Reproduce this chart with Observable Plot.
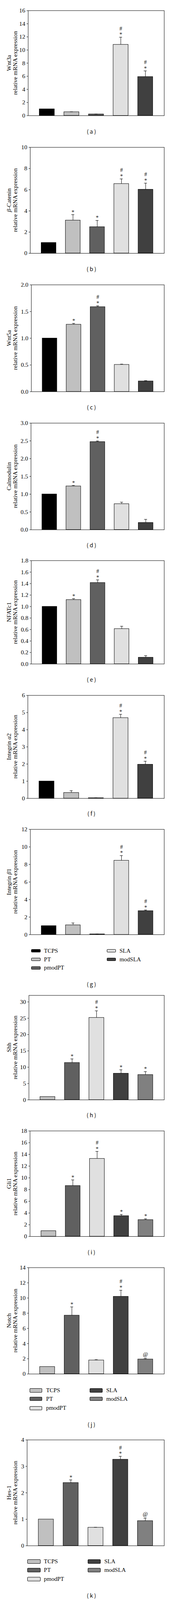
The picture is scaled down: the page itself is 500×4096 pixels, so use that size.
<!DOCTYPE html>
<html>
<head>
<meta charset="utf-8">
<script src="https://cdn.jsdelivr.net/npm/d3@7"></script>
<script src="https://cdn.jsdelivr.net/npm/@observablehq/plot@0.6"></script>
<style>
html, body { margin: 0; padding: 0; background: #fff; }
#root { position: relative; width: 500px; height: 4096px; overflow: hidden; background: #fff; }
.panel { position: absolute; left: 0; }
.cap { position: absolute; text-align: center; font-family: "Noto Sans CJK KR", "Noto Sans", sans-serif; color: #000; white-space: pre; }
.leg { position: absolute; display: flex; align-items: center; font-family: "Liberation Serif", "Times New Roman", serif; color: #000; white-space: nowrap; }
.sw { display: inline-block; box-sizing: border-box; border: 1px solid #000; border-radius: 2px; flex: none; }
</style>
</head>
<body>
<div id="root"></div>
<script>
const S = 0.834;

// ---------- categories & colours ----------
const groups = ["TCPS", "PT", "pmodPT", "SLA", "modSLA"];
const paletteWnt = ["#000000", "#c0c0c0", "#606060", "#e0e0e0", "#404040"];
const paletteHh  = ["#c0c0c0", "#606060", "#e0e0e0", "#404040", "#808080"];

// ---------- data (mean, upper error, significance marks) ----------
const wnt3aMean = [1.0, 0.56, 0.22, 10.82, 5.92];
const wnt3aErr  = [0, 0.02, 0.02, 1.13, 0.90];
const wnt3aSig  = ["", "", "", "*#", "*#"];

const catMean = [1.0, 3.11, 2.49, 6.56, 6.02];
const catErr  = [0, 0.54, 0.61, 0.46, 0.60];
const catSig  = ["", "*", "*", "*#", "*#"];

const wnt5aMean = [1.0, 1.258, 1.587, 0.506, 0.197];
const wnt5aErr  = [0, 0.02, 0.02, 0.01, 0.01];
const wnt5aSig  = ["", "*", "*#", "", ""];

const calMean = [1.0, 1.226, 2.473, 0.726, 0.198];
const calErr  = [0, 0.02, 0.025, 0.05, 0.095];
const calSig  = ["", "*", "*#", "", ""];

const nfatMean = [1.0, 1.118, 1.415, 0.612, 0.113];
const nfatErr  = [0, 0.02, 0.05, 0.045, 0.032];
const nfatSig  = ["", "*", "*#", "", ""];

const itga2Mean = [1.0, 0.33, 0.025, 4.69, 1.975];
const itga2Err  = [0, 0.12, 0.01, 0.21, 0.19];
const itga2Sig  = ["", "", "", "*#", "*#"];

const itgb1Mean = [1.0, 1.09, 0.06, 8.45, 2.71];
const itgb1Err  = [0, 0.24, 0.01, 0.56, 0.10];
const itgb1Sig  = ["", "", "", "*#", "*#"];

const shhMean = [0.95, 11.37, 25.17, 8.08, 7.68];
const shhErr  = [0, 1.17, 2.10, 1.13, 0.97];
const shhSig  = ["", "*", "*#", "*", "*"];

const gliMean = [0.95, 8.65, 13.27, 3.51, 2.84];
const gliErr  = [0, 1.0, 1.24, 0.24, 0.17];
const gliSig  = ["", "*", "*#", "*", "*"];

const notchMean = [0.95, 7.71, 1.81, 10.19, 1.94];
const notchErr  = [0, 1.12, 0.07, 0.83, 0.10];
const notchSig  = ["", "*", "", "*#", "@"];

const hesMean = [1.0, 2.38, 0.69, 3.26, 0.94];
const hesErr  = [0, 0.11, 0.01, 0.12, 0.10];
const hesSig  = ["", "*", "", "*#", "@"];

// ---------- tick values ----------
const ticksWnt3a = [0, 2, 4, 6, 8, 10, 12, 14, 16];
const ticksCat   = [0, 2, 4, 6, 8, 10];
const ticksWnt5a = [0, 0.5, 1.0, 1.5, 2.0];
const ticksCal   = [0, 0.5, 1.0, 1.5, 2.0, 2.5, 3.0];
const ticksNfat  = [0, 0.2, 0.4, 0.6, 0.8, 1.0, 1.2, 1.4, 1.6, 1.8];
const ticksItga2 = [0, 1, 2, 3, 4, 5, 6];
const ticksItgb1 = [0, 2, 4, 6, 8, 10, 12];
const ticksShh   = [0, 5, 10, 15, 20, 25, 30];
const ticksGli   = [0, 2, 4, 6, 8, 10, 12, 14, 16, 18];
const ticksNotch = [0, 2, 4, 6, 8, 10, 12, 14];
const ticksHes   = [0, 1, 2, 3, 4];

// ---------- axis titles (_x_ = italic) ----------
const titleWnt3a = ["Wnt3a", "relative mRNA expression"];
const titleCat   = ["_β_-Catenin", "relative mRNA expression"];
const titleWnt5a = ["Wnt5a", "relative mRNA expression"];
const titleCal   = ["Calmodulin", "relative mRNA expression"];
const titleNfat  = ["NFATc1", "relative mRNA expression"];
const titleItga2 = ["Integrin _α_2", "relative mRNA expression"];
const titleItgb1 = ["Integrin _β_1", "relative mRNA expression"];
const titleShh   = ["Shh", "relative mRNA expression"];
const titleGli   = ["Gli1", "relative mRNA expression"];
const titleNotch = ["Notch", "relative mRNA expression"];
const titleHes   = ["Hes-1", "relative mRNA expression"];

const captions = ["( a )", "( b )", "( c )", "( d )", "( e )", "( f )", "( g )", "( h )", "( i )", "( j )", "( k )"];

// ---------- layout (reference pixels) ----------
const layout = [
  {top: 32.3,   bottom: 354.7,  left: 86,   cap: 403},
  {top: 451.7,  bottom: 777,    left: 92.3, cap: 825},
  {top: 873.3,  bottom: 1201.3, left: 95.7, cap: 1250},
  {top: 1298,   bottom: 1625.3, left: 94.7, cap: 1673},
  {top: 1720,   bottom: 2037.3, left: 95.5, cap: 2085},
  {top: 2133.5, bottom: 2449.7, left: 85,   cap: 2496.7},
  {top: 2545.5, bottom: 2868.7, left: 92.7, cap: 3021,
    legend: {rows: [2918.6, 2945.2, 2971], sx: [96.4, 328], tx: [135.3, 367.4], sw: 28.3, sh: 9.3}},
  {top: 3054.3, bottom: 3375,   left: 88.3, cap: 3421.7},
  {top: 3471.3, bottom: 3795.3, left: 91.7, cap: 3843.3},
  {top: 3890.3, bottom: 4216.7, left: 87.3, cap: 4371.7,
    legend: {rows: [4267.7, 4294, 4322.3], sx: [90.7, 275.7], tx: [141.7, 326.7], sw: 39.3, sh: 12.7}},
  {top: 4418.8, bottom: 4743.7, left: 82.7, cap: 4896.7,
    legend: {rows: [4792.7, 4820, 4847.3], sx: [84.3, 269.3], tx: [135, 320.7], sw: 40, sh: 13}}
];

const fmt1 = d3.format(".1f");
const fmt0 = d3.format("d");

const panels = [
  {mean: wnt3aMean, err: wnt3aErr, sig: wnt3aSig, ticks: ticksWnt3a, ymax: 16,  fmt: fmt0, title: titleWnt3a, palette: paletteWnt},
  {mean: catMean,   err: catErr,   sig: catSig,   ticks: ticksCat,   ymax: 10,  fmt: fmt0, title: titleCat,   palette: paletteWnt},
  {mean: wnt5aMean, err: wnt5aErr, sig: wnt5aSig, ticks: ticksWnt5a, ymax: 2,   fmt: fmt1, title: titleWnt5a, palette: paletteWnt},
  {mean: calMean,   err: calErr,   sig: calSig,   ticks: ticksCal,   ymax: 3,   fmt: fmt1, title: titleCal,   palette: paletteWnt},
  {mean: nfatMean,  err: nfatErr,  sig: nfatSig,  ticks: ticksNfat,  ymax: 1.8, fmt: fmt1, title: titleNfat,  palette: paletteWnt},
  {mean: itga2Mean, err: itga2Err, sig: itga2Sig, ticks: ticksItga2, ymax: 6,   fmt: fmt0, title: titleItga2, palette: paletteWnt},
  {mean: itgb1Mean, err: itgb1Err, sig: itgb1Sig, ticks: ticksItgb1, ymax: 12,  fmt: fmt0, title: titleItgb1, palette: paletteWnt},
  {mean: shhMean,   err: shhErr,   sig: shhSig,   ticks: ticksShh,   ymax: 32,  fmt: fmt0, title: titleShh,   palette: paletteHh},
  {mean: gliMean,   err: gliErr,   sig: gliSig,   ticks: ticksGli,   ymax: 18,  fmt: fmt0, title: titleGli,   palette: paletteHh},
  {mean: notchMean, err: notchErr, sig: notchSig, ticks: ticksNotch, ymax: 14,  fmt: fmt0, title: titleNotch, palette: paletteHh},
  {mean: hesMean,   err: hesErr,   sig: hesSig,   ticks: ticksHes,   ymax: 4,   fmt: fmt0, title: titleHes,   palette: paletteHh}
];

const RIGHT = 504.3;
const FONT = "'Liberation Serif', 'Times New Roman', serif";
const root = document.getElementById("root");

panels.forEach((p, idx) => {
  const L = layout[idx];
  const padT = 14, padB = 12;
  const W = 500;
  const H = (L.bottom - L.top + padT + padB) * S;
  const mL = L.left * S, mR = W - RIGHT * S;
  const plotW = W - mL - mR;
  const pi = 0.39, po = 0.46;
  const step = plotW / (groups.length - pi + 2 * po);
  const bw = step * (1 - pi);
  const capInset = (bw - 9 * S) / 2;
  const rows = groups.map((g, i) => ({g, v: p.mean[i], top: p.mean[i] + p.err[i], e: p.err[i], sig: p.sig[i]}));
  const withErr = rows.filter(d => d.e > 0);
  const fs = 18.5 * S, afs = 17 * S;

  const svg = Plot.plot({
    width: W, height: H,
    marginLeft: mL, marginRight: mR, marginTop: padT * S, marginBottom: padB * S,
    style: {fontFamily: FONT, fontSize: fs + "px", color: "#000", background: "none", overflow: "visible"},
    x: {type: "band", domain: groups, paddingInner: pi, paddingOuter: po, align: 0.5, round: false, axis: null},
    y: {domain: [0, p.ymax], axis: null},
    color: {domain: groups, range: p.palette},
    marks: [
      Plot.barY(rows, {x: "g", y: "v", fill: "g", stroke: "#000", strokeWidth: 1}),
      Plot.ruleX(withErr, {x: "g", y1: "v", y2: "top", stroke: "#000", strokeWidth: 1}),
      Plot.tickY(withErr, {x: "g", y: "top", stroke: "#000", strokeWidth: 1, insetLeft: capInset, insetRight: capInset}),
      Plot.text(rows.filter(d => d.sig.includes("*")), {x: "g", y: "top", text: () => "*", dy: -7.7 * S, fontSize: afs}),
      Plot.text(rows.filter(d => d.sig.includes("#")), {x: "g", y: "top", text: () => "#", dy: -26.6 * S, fontSize: afs}),
      Plot.text(rows.filter(d => d.sig.includes("@")), {x: "g", y: "top", text: () => "@", dy: -12 * S, fontSize: afs}),
      Plot.frame({stroke: "#000", strokeWidth: 1}),
      Plot.axisY({ticks: p.ticks, tickFormat: p.fmt, tickSize: 4 * S, tickPadding: 5 * S, fontSize: fs, label: null})
    ]
  });

  // two-line rotated y-axis title
  const cy = (padT + (L.bottom - L.top) / 2) * S;
  p.title.forEach((line, k) => {
    const x = (k === 0 ? 28 : 47) * S;
    const t = d3.select(svg).append("text")
      .attr("transform", `translate(${x},${cy}) rotate(-90)`)
      .attr("text-anchor", "middle")
      .attr("dy", "0.3em")
      .attr("font-family", FONT)
      .attr("font-size", fs)
      .attr("fill", "#000");
    line.split("_").forEach((seg, j) => {
      if (seg) t.append("tspan").attr("font-style", j % 2 ? "italic" : null).text(seg);
    });
  });

  const wrap = document.createElement("div");
  wrap.className = "panel";
  wrap.style.top = ((L.top - padT) * S) + "px";
  wrap.appendChild(svg);
  root.appendChild(wrap);

  // legend
  if (L.legend) {
    const lg = L.legend;
    groups.forEach((g, i) => {
      const col = i < 3 ? 0 : 1;
      const row = i < 3 ? i : i - 3;
      const it = document.createElement("div");
      it.className = "leg";
      const h = 24 * S;
      it.style.left = (lg.sx[col] * S) + "px";
      it.style.top = (lg.rows[row] * S - h / 2) + "px";
      it.style.height = h + "px";
      it.style.fontSize = (18 * S) + "px";
      const sw = document.createElement("span");
      sw.className = "sw";
      sw.style.width = (lg.sw * S) + "px";
      sw.style.height = (lg.sh * S) + "px";
      sw.style.background = p.palette[i];
      sw.style.marginRight = ((lg.tx[col] - lg.sx[col] - lg.sw) * S) + "px";
      const tx = document.createElement("span");
      tx.textContent = g;
      it.appendChild(sw);
      it.appendChild(tx);
      root.appendChild(it);
    });
  }

  // caption
  const cap = document.createElement("div");
  cap.className = "cap";
  const lh = 22 * S;
  cap.style.left = ((281 - 60) * S) + "px";
  cap.style.width = (120 * S) + "px";
  cap.style.top = (L.cap * S - lh / 2) + "px";
  cap.style.lineHeight = lh + "px";
  cap.style.fontSize = (17 * S) + "px";
  cap.textContent = captions[idx];
  root.appendChild(cap);
});
</script>
</body>
</html>
